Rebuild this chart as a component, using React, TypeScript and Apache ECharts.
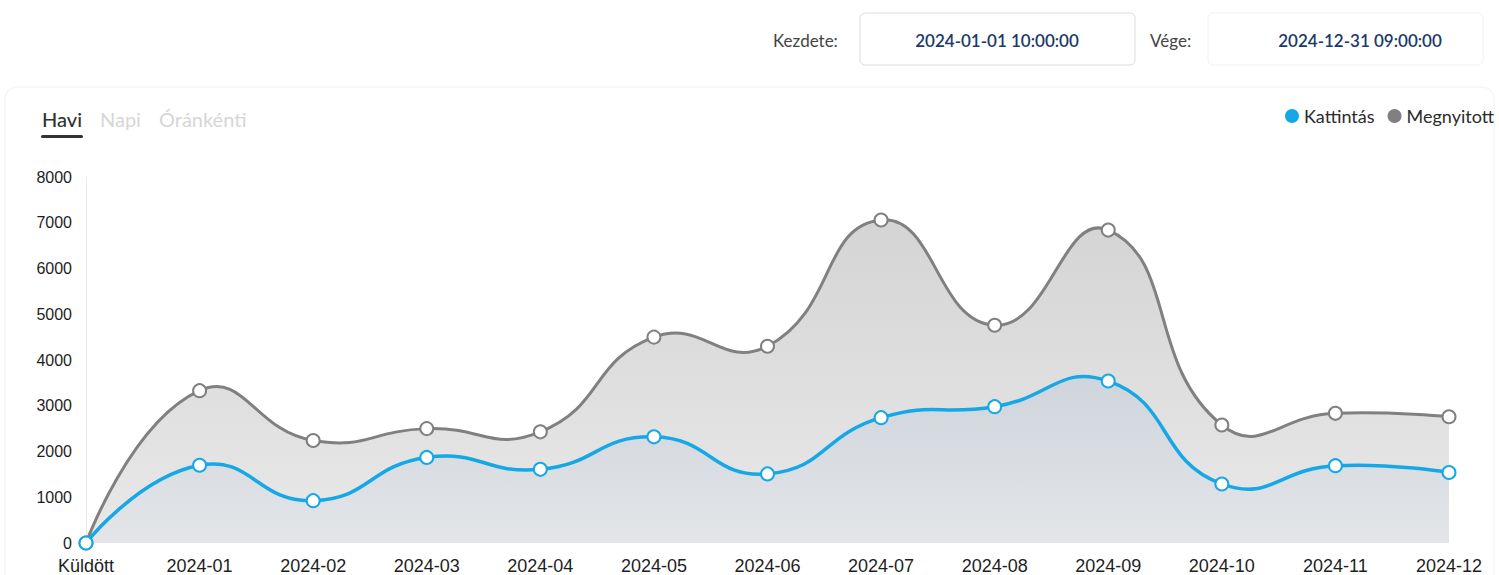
import React, { useEffect, useRef } from "react";
import * as echarts from "echarts";

const categories = [
  "Küldött", "2024-01", "2024-02", "2024-03", "2024-04", "2024-05", "2024-06",
  "2024-07", "2024-08", "2024-09", "2024-10", "2024-11", "2024-12",
];
const kattintas = [0, 1700, 925, 1870, 1610, 2320, 1510, 2740, 2980, 3540, 1290, 1690, 1540];
const megnyitott = [0, 3330, 2240, 2500, 2430, 4500, 4300, 7060, 4760, 6840, 2580, 2835, 2760];
const seriesNames = ["Kattintás", "Megnyitott"];
const tabs = ["Havi", "Napi", "Óránkénti"];
const startLabel = "Kezdete:";
const endLabel = "Vége:";
const startDate = "2024-01-01 10:00:00";
const endDate = "2024-12-31 09:00:00";

const BLUE = "#16a8e6";
const GRAY = "#808080";
const UI_FONT = "Lato, 'Noto Sans', sans-serif";
const AXIS_FONT = "'Liberation Sans', Arial, sans-serif";
const TENSION = 0.5;

// Unconstrained cardinal-style spline (same control-point rule as ECharts' smooth, without clamping)
function splinePath(pts: number[][], smooth: number): string {
  const n = pts.length;
  const cpIn: number[][] = [];
  const cpOut: number[][] = [];
  for (let i = 0; i < n; i++) {
    const cur = pts[i];
    if (i === 0 || i === n - 1) {
      cpIn.push(cur);
      cpOut.push(cur);
      continue;
    }
    const prev = pts[i - 1];
    const next = pts[i + 1];
    const vx = next[0] - prev[0];
    const vy = next[1] - prev[1];
    const d0 = Math.hypot(cur[0] - prev[0], cur[1] - prev[1]);
    const d1 = Math.hypot(next[0] - cur[0], next[1] - cur[1]);
    const sum = d0 + d1 || 1;
    const r0 = d0 / sum;
    const r1 = d1 / sum;
    cpIn.push([cur[0] - vx * smooth * r0, cur[1] - vy * smooth * r0]);
    cpOut.push([cur[0] + vx * smooth * r1, cur[1] + vy * smooth * r1]);
  }
  let d = `M${pts[0][0]},${pts[0][1]}`;
  for (let i = 0; i < n - 1; i++) {
    const a = cpOut[i];
    const b = cpIn[i + 1];
    const p = pts[i + 1];
    d += `C${a[0]},${a[1]},${b[0]},${b[1]},${p[0]},${p[1]}`;
  }
  return d;
}

function curveSeries(values: number[], color: string, width: number, fill: any, z: number) {
  return {
    type: "custom",
    coordinateSystem: "cartesian2d",
    silent: true,
    z,
    data: values.map((v, i) => [i, v]),
    encode: { x: 0, y: 1 },
    renderItem: (params: any, api: any) => {
      if (params.dataIndex !== 0) return null;
      const pts = values.map((v, i) => api.coord([i, v]));
      const base = api.coord([0, 0])[1];
      const line = splinePath(pts, TENSION);
      const last = pts[pts.length - 1];
      const area = `${line}L${last[0]},${base}L${pts[0][0]},${base}Z`;
      return {
        type: "group",
        children: [
          { type: "path", shape: { pathData: area }, style: { fill, stroke: "none" } },
          {
            type: "path",
            shape: { pathData: line },
            style: { fill: "none", stroke: color, lineWidth: width, lineJoin: "round" },
          },
        ],
      };
    },
  };
}

export default function App() {
  const ref = useRef<HTMLDivElement>(null);
  useEffect(() => {
    if (!ref.current) return;
    const chart = echarts.init(ref.current, undefined, { renderer: "svg" });
    const grayFill = new echarts.graphic.LinearGradient(0, 0, 0, 1, [
      { offset: 0, color: "#d4d4d4" },
      { offset: 1, color: "#e9e9e9" },
    ]);
    const blueFill = new echarts.graphic.LinearGradient(0, 0, 0, 1, [
      { offset: 0, color: "#cfd5dc" },
      { offset: 1, color: "#e3e5e8" },
    ]);
    chart.setOption({
      animation: false,
      backgroundColor: "#ffffff",
      grid: { left: 86, right: 50, top: 177, bottom: 32, containLabel: false },
      legend: {
        right: 0,
        top: 102,
        icon: "circle",
        itemWidth: 14,
        itemHeight: 14,
        itemGap: 13,
        data: [
          { name: seriesNames[0], itemStyle: { color: BLUE, borderWidth: 0 } },
          { name: seriesNames[1], itemStyle: { color: GRAY, borderWidth: 0 } },
        ],
        textStyle: { fontFamily: UI_FONT, fontSize: 18, color: "#2b2b2b" },
      },
      xAxis: {
        type: "category",
        boundaryGap: false,
        data: categories,
        axisLine: { show: false },
        axisTick: { show: false },
        axisLabel: { color: "#1e1e1e", fontFamily: AXIS_FONT, fontSize: 18, margin: 14 },
        splitLine: { show: false },
      },
      yAxis: {
        type: "value",
        min: 0,
        max: 8000,
        interval: 1000,
        axisLine: { show: true, lineStyle: { color: "#ececec", width: 1 } },
        axisTick: { show: false },
        axisLabel: {
          color: "#1e1e1e",
          fontFamily: AXIS_FONT,
          fontSize: 16,
          margin: 14,
          formatter: (v: number) => String(v),
        },
        splitLine: { show: false },
      },
      series: [
        curveSeries(megnyitott, GRAY, 3, grayFill, 1),
        curveSeries(kattintas, BLUE, 3.5, blueFill, 2),
        {
          name: seriesNames[0],
          type: "line",
          data: kattintas,
          z: 4,
          symbol: "emptyCircle",
          symbolSize: 13,
          showSymbol: true,
          itemStyle: { color: BLUE, borderWidth: 3.5 },
          lineStyle: { color: BLUE, width: 0, opacity: 0 },
        },
        {
          name: seriesNames[1],
          type: "line",
          data: megnyitott,
          z: 3,
          symbol: "emptyCircle",
          symbolSize: 13,
          showSymbol: true,
          itemStyle: { color: GRAY, borderWidth: 3 },
          lineStyle: { color: GRAY, width: 0, opacity: 0 },
        },
      ],
      graphic: [
        {
          type: "rect",
          z: -10,
          shape: { x: 5, y: 87, width: 1489, height: 520, r: 12 },
          style: { fill: "none", stroke: "#f6f6f6", lineWidth: 1.5 },
        },
        {
          type: "text",
          x: 773,
          y: 40,
          style: { text: startLabel, font: `17px ${UI_FONT}`, fill: "#444", textVerticalAlign: "middle" },
        },
        {
          type: "rect",
          shape: { x: 860, y: 13, width: 275, height: 52, r: 5 },
          style: { fill: "#fff", stroke: "#dcdcdc", lineWidth: 1 },
        },
        {
          type: "text",
          x: 997,
          y: 40,
          style: {
            text: startDate,
            font: `600 17px ${UI_FONT}`,
            fill: "#1b3a6b",
            textAlign: "center",
            textVerticalAlign: "middle",
          },
        },
        {
          type: "text",
          x: 1150,
          y: 40,
          style: { text: endLabel, font: `17px ${UI_FONT}`, fill: "#444", textVerticalAlign: "middle" },
        },
        {
          type: "rect",
          shape: { x: 1208, y: 13, width: 275, height: 52, r: 5 },
          style: { fill: "#fff", stroke: "#f0f0f0", lineWidth: 1 },
        },
        {
          type: "text",
          x: 1360,
          y: 40,
          style: {
            text: endDate,
            font: `600 17px ${UI_FONT}`,
            fill: "#1b3a6b",
            textAlign: "center",
            textVerticalAlign: "middle",
          },
        },
        {
          type: "text",
          x: 42,
          y: 119,
          style: { text: tabs[0], font: `500 20px ${UI_FONT}`, fill: "#333", textVerticalAlign: "middle" },
        },
        {
          type: "rect",
          shape: { x: 41, y: 135, width: 42, height: 3, r: 1.5 },
          style: { fill: "#333" },
        },
        {
          type: "text",
          x: 100,
          y: 119,
          style: { text: tabs[1], font: `20px ${UI_FONT}`, fill: "#d6d6d6", textVerticalAlign: "middle" },
        },
        {
          type: "text",
          x: 159,
          y: 119,
          style: { text: tabs[2], font: `20px ${UI_FONT}`, fill: "#d6d6d6", textVerticalAlign: "middle" },
        },
      ],
    });
    return () => chart.dispose();
  }, []);
  return (
    <div
      ref={ref}
      style={{ position: "absolute", left: 0, top: 0, width: 1499, height: 575 }}
    />
  );
}
